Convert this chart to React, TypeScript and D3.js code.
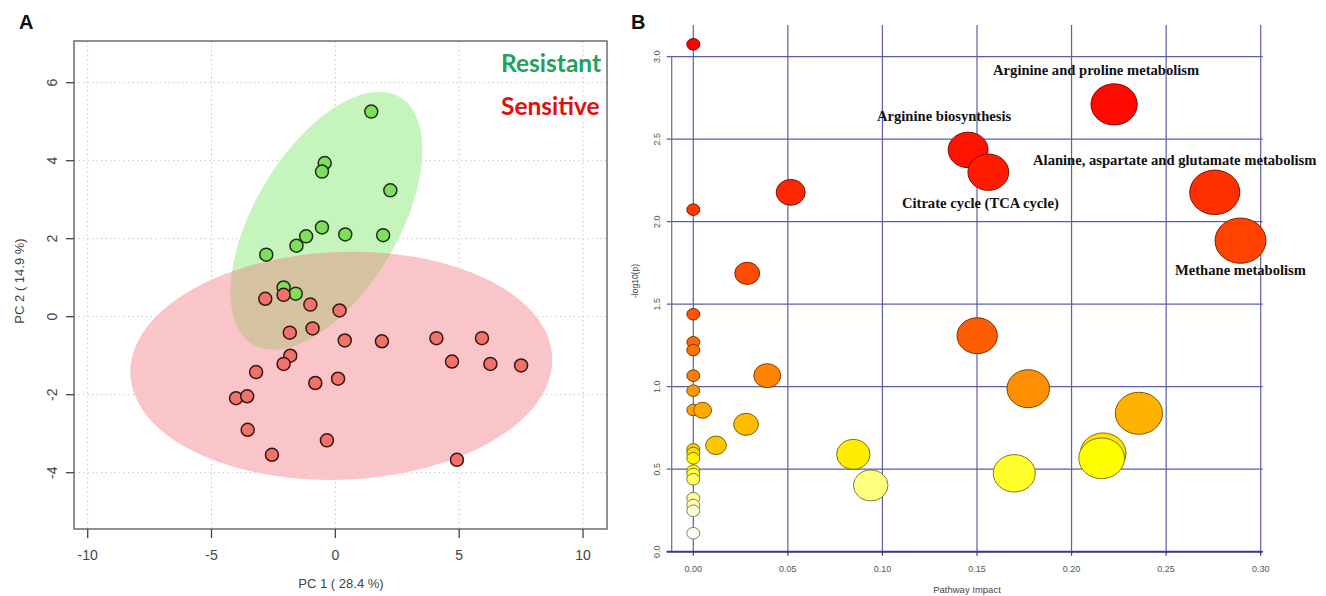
import React from "react";
import * as d3 from "d3";

// ---------------- Panel A data (PCA scores) ----------------
const resistantPC1 = [1.45, -0.43, -0.54, 2.22, -0.54, 0.40, 1.93, -1.18, -1.57, -2.79, -2.09, -1.60];
const resistantPC2 = [5.26, 3.94, 3.72, 3.24, 2.29, 2.11, 2.09, 2.06, 1.82, 1.59, 0.75, 0.59];
const sensitivePC1 = [-2.83, -2.09, -1.01, -1.84, -0.92, -1.82, -2.09, -3.20, -4.01, -3.56, -3.54, -2.56, -0.81, 0.17, 0.38, 1.88, 4.08, 5.92, 4.71, 6.26, 7.50, 0.11, -0.34, 4.91];
const sensitivePC2 = [0.46, 0.56, 0.31, -0.41, -0.30, -1.00, -1.21, -1.42, -2.09, -2.04, -2.90, -3.54, -1.70, 0.16, -0.61, -0.63, -0.55, -0.55, -1.15, -1.21, -1.25, -1.59, -3.17, -3.67];
// confidence ellipses: centre and conjugate semi-axis vectors (data units)
const resistantEllipse = [-0.36, 2.46, 3.876, 1.82, 0, -2.76];
const sensitiveEllipse = [0.24, -1.26, 8.52, 0.154, 0, -2.92];
const pcaXTicks = [-10, -5, 0, 5, 10];
const pcaYTicks = [-4, -2, 0, 2, 4, 6];
const groupNames = ["Resistant", "Sensitive"];

// ---------------- Panel B data (pathway analysis) ----------------
const pathwayImpact = [
  0, 0, 0, 0, 0, 0, 0, 0, 0, 0, 0, 0, 0, 0, 0, 0, 0, 0,
  0.0049, 0.012, 0.0279, 0.0285, 0.0391, 0.0515, 0.0846, 0.0938, 0.1453, 0.1501, 0.156,
  0.1697, 0.1771, 0.2167, 0.2159, 0.2225, 0.2356, 0.2757, 0.2893,
];
const pathwayLogP = [
  3.075, 2.073, 1.439, 1.269, 1.222, 1.067, 0.976, 0.859, 0.62, 0.598, 0.566, 0.491, 0.471, 0.439, 0.324, 0.283, 0.248, 0.112,
  0.857, 0.645, 0.772, 1.687, 1.067, 2.178, 0.59, 0.402, 2.435, 1.309, 2.30,
  0.475, 0.988, 0.596, 0.566, 2.711, 0.839, 2.178, 1.885,
];
const labelNames = [
  "Arginine and proline metabolism",
  "Arginine biosynthesis",
  "Alanine, aspartate and glutamate metabolism",
  "Citrate cycle (TCA cycle)",
  "Methane metabolism",
];
const labelIndex = [33, 26, 35, 28, 36];
const impactTicks = [0, 0.05, 0.1, 0.15, 0.2, 0.25, 0.3];
const logPTicks = [0, 0.5, 1.0, 1.5, 2.0, 2.5, 3.0];

// ---------------- layout ----------------
const W = 1326;
const H = 596;
const boxA = { left: 74, right: 607, top: 41, bottom: 529 };
const labelOffsets = [
  [-18, -29],
  [-24, -29],
  [-40, -27],
  [-8, 36],
  [0, 34],
];

const xA = d3.scaleLinear().domain([-10, 10]).range([87.7, 583]);
const yA = d3.scaleLinear().domain([-4, 6]).range([472.7, 82.7]);
const xB = d3.scaleLinear().domain([0, 0.3]).range([693.3, 1260.7]);
const yB = d3.scaleLinear().domain([0, 3]).range([551.7, 56.7]);
const rSqrt = d3.scaleSqrt().domain([0, 0.3]).range([0, 19.3]);

// R's heat.colors(n)
function heatColors(n: number): string[] {
  const j = Math.floor(n / 4);
  const i = n - j;
  const out: string[] = [];
  for (let k = 0; k < i; k++) {
    const h = i > 1 ? k / (i - 1) : 0;
    out.push(d3.rgb(255, Math.round(255 * h), 0).formatHex());
  }
  for (let k = 0; k < j; k++) {
    const s = j > 1 ? 1 - 1 / (2 * j) - k * ((1 - 1 / j) / (j - 1)) : 0.5;
    out.push(d3.rgb(255, 255, Math.round(255 * (1 - s))).formatHex());
  }
  return out;
}

function ellipsePath(p: number[]) {
  const [cx, cy, ux, uy, vx, vy] = p;
  const pts: [number, number][] = d3.range(0, 120).map((k) => {
    const t = (k / 120) * Math.PI * 2;
    return [xA(cx + ux * Math.cos(t) + vx * Math.sin(t)), yA(cy + uy * Math.cos(t) + vy * Math.sin(t))];
  });
  return d3.line().curve(d3.curveLinearClosed)(pts) || "";
}

export default function App() {
  const n = pathwayLogP.length;
  const heat = heatColors(n);
  const order = d3.range(n).sort((a, b) => pathwayLogP[b] - pathwayLogP[a]);
  const colorOf: string[] = new Array(n);
  order.forEach((idx, rank) => (colorOf[idx] = heat[rank]));

  const greenPath = ellipsePath(resistantEllipse);
  const redPath = ellipsePath(sensitiveEllipse);
  const sans = "'Liberation Sans', Arial, sans-serif";
  const gridB = "#5d5dab";

  return (
    <svg width={W} height={H} style={{ position: "absolute", left: 0, top: 0, display: "block", background: "#fff" }}>
      <defs>
        <clipPath id="greenClip">
          <path d={greenPath} />
        </clipPath>
      </defs>
      {/* ================= Panel A ================= */}
      <text x={19} y={29} fontFamily={sans} fontWeight="bold" fontSize={20} fill="#111">A</text>
      {pcaXTicks.map((t) => (
        <line key={"gx" + t} x1={xA(t)} x2={xA(t)} y1={boxA.top} y2={boxA.bottom} stroke="#c8c8c8" strokeWidth={1} strokeDasharray="1.5,3" />
      ))}
      {pcaYTicks.map((t) => (
        <line key={"gy" + t} x1={boxA.left} x2={boxA.right} y1={yA(t)} y2={yA(t)} stroke="#c8c8c8" strokeWidth={1} strokeDasharray="1.5,3" />
      ))}
      <path d={greenPath} fill="#c6f4bd" />
      <path d={redPath} fill="#f9c5c9" />
      <path d={redPath} fill="#d5c2a0" clipPath="url(#greenClip)" />
      {resistantPC1.map((v, i) => (
        <circle key={"r" + i} cx={xA(v)} cy={yA(resistantPC2[i])} r={6.5} fill="#80de5e" stroke="#1d2e16" strokeWidth={1.5} />
      ))}
      {sensitivePC1.map((v, i) => (
        <circle key={"s" + i} cx={xA(v)} cy={yA(sensitivePC2[i])} r={6.5} fill="#f0726a" stroke="#3a1612" strokeWidth={1.5} />
      ))}
      <rect x={boxA.left} y={boxA.top} width={boxA.right - boxA.left} height={boxA.bottom - boxA.top} fill="none" stroke="#555" strokeWidth={1.3} />
      {pcaXTicks.map((t) => (
        <g key={"tx" + t}>
          <line x1={xA(t)} x2={xA(t)} y1={boxA.bottom} y2={boxA.bottom + 9} stroke="#444" strokeWidth={1.3} />
          <text x={xA(t)} y={560} textAnchor="middle" fontFamily={sans} fontSize={14} fill="#444">{t}</text>
        </g>
      ))}
      {pcaYTicks.map((t) => (
        <g key={"ty" + t}>
          <line x1={boxA.left - 8} x2={boxA.left} y1={yA(t)} y2={yA(t)} stroke="#444" strokeWidth={1.3} />
          <text transform={`translate(56.5,${yA(t)}) rotate(-90)`} textAnchor="middle" fontFamily={sans} fontSize={14} fill="#444">{t}</text>
        </g>
      ))}
      <text x={341} y={588} textAnchor="middle" fontFamily={sans} fontSize={13} fill="#444">PC 1 ( 28.4 %)</text>
      <text transform="translate(24,281) rotate(-90)" textAnchor="middle" fontFamily={sans} fontSize={13} fill="#444">PC 2 ( 14.9 %)</text>
      <text x={501} y={72} fontFamily="Lato, 'Open Sans', sans-serif" fontWeight="bold" fontSize={24.5} fill="#1fa35c">{groupNames[0]}</text>
      <text x={501} y={115} fontFamily="Lato, 'Open Sans', sans-serif" fontWeight="bold" fontSize={24.5} fill="#e0100f">{groupNames[1]}</text>

      {/* ================= Panel B ================= */}
      <text x={631} y={29} fontFamily={sans} fontWeight="bold" fontSize={20} fill="#111">B</text>
      {impactTicks.map((t) => (
        <line key={"bgx" + t} x1={xB(t)} x2={xB(t)} y1={25} y2={yB(0)} stroke={gridB} strokeWidth={1.2} />
      ))}
      {logPTicks.map((t) => (
        <line key={"bgy" + t} x1={666.7} x2={1262.7} y1={yB(t)} y2={yB(t)} stroke={gridB} strokeWidth={1.2} />
      ))}
      <line x1={671.7} x2={671.7} y1={yB(3)} y2={yB(0)} stroke="#777" strokeWidth={1.3} />
      <line x1={666.7} x2={1262.7} y1={yB(0)} y2={yB(0)} stroke="#3b3b80" strokeWidth={2} />
      {impactTicks.map((t) => (
        <g key={"btx" + t}>
          <line x1={xB(t)} x2={xB(t)} y1={yB(0)} y2={yB(0) + 4} stroke="#3b3b80" strokeWidth={1.2} />
          <text x={xB(t)} y={572} textAnchor="middle" fontFamily={sans} fontSize={9} fill="#555">{t.toFixed(2)}</text>
        </g>
      ))}
      {logPTicks.map((t) => (
        <text key={"bty" + t} transform={`translate(660,${yB(t)}) rotate(-90)`} textAnchor="middle" fontFamily={sans} fontSize={9} fill="#555">{t.toFixed(1)}</text>
      ))}
      <text x={967} y={593} textAnchor="middle" fontFamily={sans} fontSize={9.5} fill="#444">Pathway Impact</text>
      <text transform="translate(638,281) rotate(-90)" textAnchor="middle" fontFamily={sans} fontSize={8.5} fill="#444">-log10(p)</text>
      {pathwayImpact.map((v, i) => {
        const rx = 6.5 + rSqrt(v);
        return (
          <ellipse key={"b" + i} cx={xB(v)} cy={yB(pathwayLogP[i])} rx={rx} ry={rx * 0.89}
            fill={colorOf[i]} stroke={d3.color(colorOf[i])!.darker(2).formatHex()} strokeWidth={1} />
        );
      })}
      {labelNames.map((name, k) => {
        const idx = labelIndex[k];
        return (
          <text key={"lab" + k} x={xB(pathwayImpact[idx]) + labelOffsets[k][0]} y={yB(pathwayLogP[idx]) + labelOffsets[k][1]}
            textAnchor="middle" fontFamily="'Liberation Serif', 'Times New Roman', serif" fontWeight="bold" fontSize={14.6} fill="#111">
            {name}
          </text>
        );
      })}
    </svg>
  );
}
